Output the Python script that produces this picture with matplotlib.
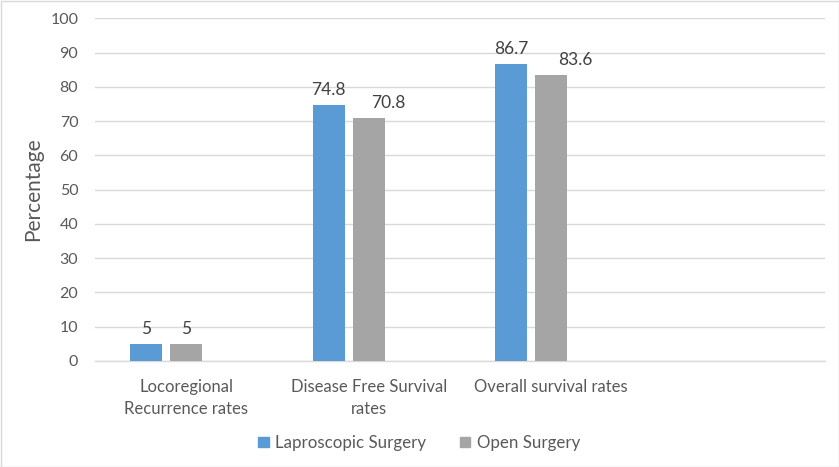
import matplotlib
matplotlib.use("Agg")
import matplotlib.pyplot as plt
import numpy as np
from matplotlib.patches import Patch

categories = ["Locoregional\nRecurrence rates", "Disease Free Survival\nrates", "Overall survival rates", ""]
laparoscopic = [5, 74.8, 86.7, np.nan]
open_surgery = [5, 70.8, 83.6, np.nan]
series_names = ["Laproscopic Surgery", "Open Surgery"]
yticks = [0, 10, 20, 30, 40, 50, 60, 70, 80, 90, 100]

plt.rcParams['font.family'] = ['Lato', 'DejaVu Sans']
text_color = "#595959"
blue = "#5B9BD5"
gray = "#A5A5A5"
grid_color = "#D9D9D9"

fig = plt.figure(figsize=(8.39, 4.67), dpi=100)
ax = fig.add_axes([95/839, 106/467, 730/839, (448.7-106)/467])

x = np.arange(len(categories))
w = 0.175
off = 0.219
ax.bar(x - off, laparoscopic, w, color=blue, zorder=3)
ax.bar(x, open_surgery, w, color=gray, zorder=3)

ax.set_xlim(-0.5, len(categories) - 0.5)
ax.set_ylim(0, 100)
ax.set_yticks(yticks)
ax.yaxis.grid(True, color=grid_color, linewidth=1, zorder=0)
ax.set_axisbelow(True)
for s in ["left", "right", "top"]:
    ax.spines[s].set_visible(False)
ax.spines["bottom"].set_color(grid_color)
ax.spines["bottom"].set_linewidth(1)
ax.tick_params(axis="y", length=0, colors=text_color, labelsize=11.5, pad=12)
ax.tick_params(axis="x", length=0, colors=text_color, labelsize=12, pad=13)
ax.set_xticks(x)
ax.set_xticklabels(categories, linespacing=1.45)
ax.set_ylabel("Percentage", fontsize=15, color=text_color, labelpad=5)

lap_dx = [0, 0, 0, 0]
open_dx = [0, 14, 17, 0]
for i, v in enumerate(laparoscopic):
    if not np.isnan(v):
        ax.annotate(f"{v:g}", (x[i] - off, v), xytext=(lap_dx[i], 5), textcoords="offset points",
                    ha="center", va="bottom", fontsize=12.5, color="#404040")
for i, v in enumerate(open_surgery):
    if not np.isnan(v):
        ax.annotate(f"{v:g}", (x[i], v), xytext=(open_dx[i], 5), textcoords="offset points",
                    ha="center", va="bottom", fontsize=12.5, color="#404040")

handles = [Patch(color=blue), Patch(color=gray)]
fig.legend(handles, series_names, loc="center", bbox_to_anchor=(0.5, 1 - 443/467), ncol=2,
           frameon=False, fontsize=12.2, labelcolor=text_color, handlelength=0.6, handleheight=0.6,
           handletextpad=0.4, columnspacing=2.0)

fig.patches.append(plt.Rectangle((0.5/839, 0.5/467), 1 - 1/839, 1 - 1/467, transform=fig.transFigure,
                                 fill=False, edgecolor=grid_color, linewidth=1))
fig.savefig("out.png", dpi=100)
